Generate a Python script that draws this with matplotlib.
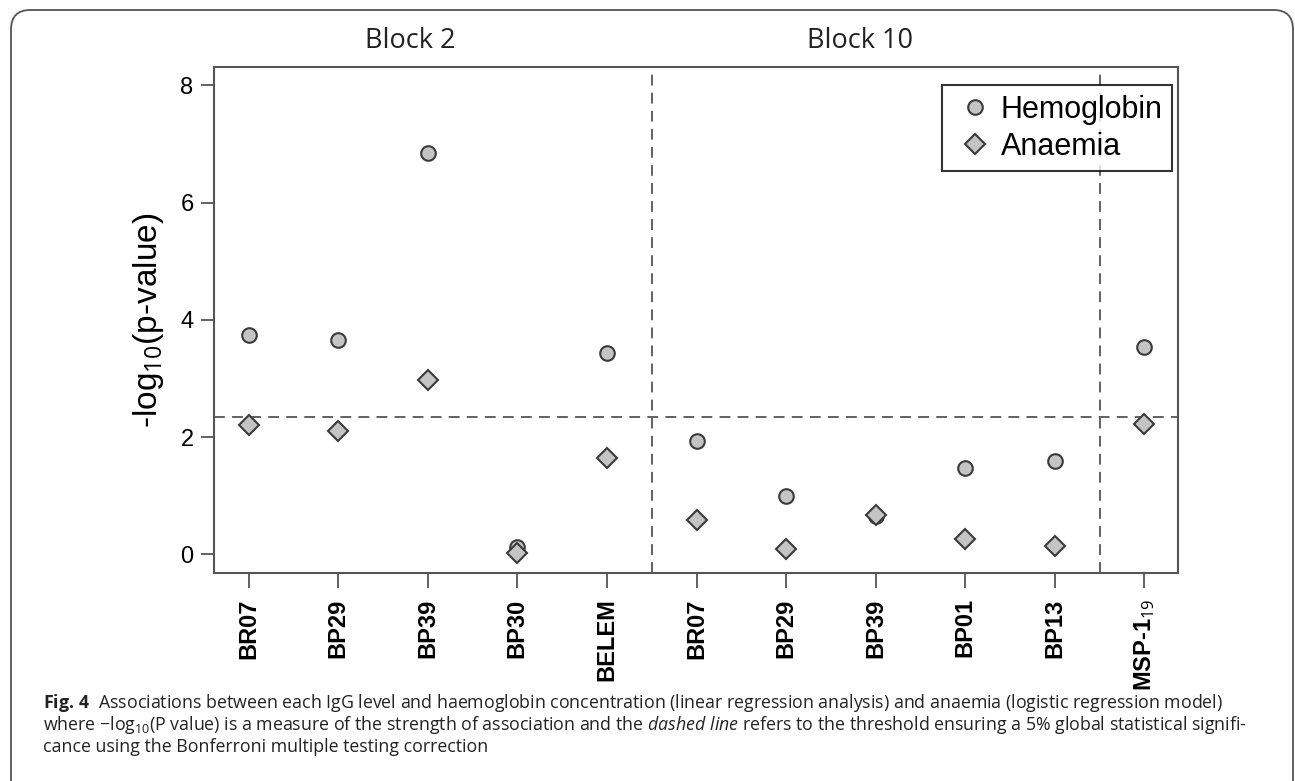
import matplotlib.pyplot as plt
from matplotlib.patches import FancyBboxPatch

plt.rcParams['font.family'] = ['Liberation Sans', 'DejaVu Sans']
plt.rcParams['mathtext.fontset'] = 'custom'
plt.rcParams['mathtext.rm'] = 'Open Sans'
plt.rcParams['mathtext.it'] = 'Open Sans:italic'
plt.rcParams['mathtext.bf'] = 'Open Sans:bold'

# antigens, two blocks + MSP-1
antigens = ['BR07', 'BP29', 'BP39', 'BP30', 'BELEM',
            'BR07', 'BP29', 'BP39', 'BP01', 'BP13', 'MSP-1$_{19}$']
hemoglobin = [3.74, 3.65, 6.85, 0.13, 3.43, 1.93, 0.99, 0.65, 1.48, 1.59, 3.54]
anaemia = [2.20, 2.10, 2.98, 0.03, 1.65, 0.58, 0.10, 0.67, 0.26, 0.14, 2.22]
threshold = 2.34          # -log10(0.05/11), Bonferroni
block_titles = ['Block 2', 'Block 10']
block_title_x = [2.8, 7.82]
block_edges = [5.5, 10.5]

gray = '#555555'
fig = plt.figure(figsize=(12.95, 7.81), dpi=100)
ax = fig.add_axes([0.165, 0.266, 0.745, 0.648])

x = list(range(1, len(antigens) + 1))
ax.plot(x, hemoglobin, 'o', ms=10.5, mfc='#c4c4c4', mec='#3a3a3a', mew=1.5,
        label='Hemoglobin', zorder=3)
ax.plot(x, anaemia, 'D', ms=10, mfc='#c4c4c4', mec='#3a3a3a', mew=1.5,
        label='Anaemia', zorder=3)

ax.axhline(threshold, color=gray, lw=1.3, dashes=(6, 4))
for xe in block_edges:
    ax.axvline(xe, color=gray, lw=1.3, dashes=(6, 4))

ax.set_xlim(0.61, 11.38)
ax.set_ylim(-0.32, 8.31)
ax.set_xticks(x)
ax.set_xticklabels(antigens, rotation=90, fontweight='bold', fontsize=17)
ax.set_yticks([0, 2, 4, 6, 8])
ax.tick_params(axis='y', labelsize=17, length=9.5, width=1.3, color=gray, pad=5)
ax.tick_params(axis='x', length=11, width=1.3, color=gray, pad=7)
for s in ax.spines.values():
    s.set_color(gray)
    s.set_linewidth(1.5)
ax.set_ylabel('-log$_{10}$(p-value)', fontsize=24, labelpad=10)

leg = ax.legend(loc='upper right', fontsize=22, frameon=True, fancybox=False,
                handletextpad=0.1, borderpad=0.3, labelspacing=0.25,
                handlelength=1.5, borderaxespad=0,
                bbox_to_anchor=(0.993, 0.964))
leg.get_frame().set_edgecolor('black')
leg.get_frame().set_linewidth(1.5)

for t, c in zip(block_titles, block_title_x):
    ax.text(c, 1.052, t, transform=ax.get_xaxis_transform(), ha='center',
            va='center', fontsize=19.5, family='Open Sans', color='#222222')

# caption underneath
cap = [r'$\mathbf{Fig.\,4}$  Associations between each IgG level and haemoglobin concentration (linear regression analysis) and anaemia (logistic regression model)',
       r'where −log$_{10}$(P value) is a measure of the strength of association and the $\mathit{dashed\ line}$ refers to the threshold ensuring a 5% global statistical signifi-',
       'cance using the Bonferroni multiple testing correction']
for i, line in enumerate(cap):
    fig.text(43 / 1295, 1 - (703 + 22 * i) / 781, line, fontsize=12.8,
             family='Open Sans', va='center', ha='left', color='#222222')

box = FancyBboxPatch((11 / 1295, -0.1), 1282 / 1295, 1.1 - 10 / 781,
                     boxstyle='round,pad=0,rounding_size=0.015',
                     transform=fig.transFigure, fill=False, ec=gray, lw=1.3,
                     mutation_aspect=1295 / 781)
fig.patches.append(box)

plt.savefig('out.png')
